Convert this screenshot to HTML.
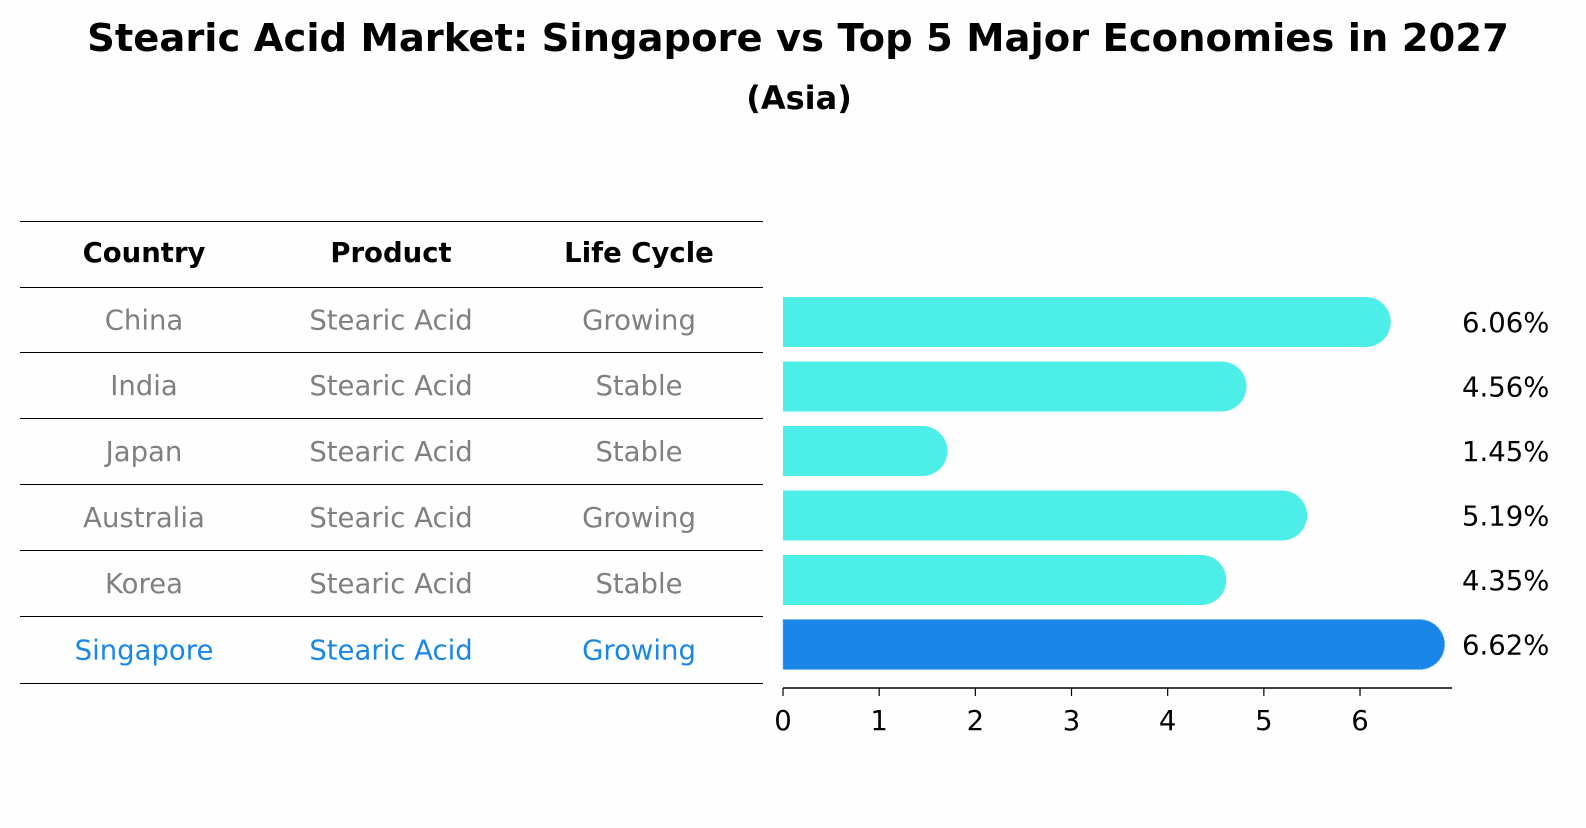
<!DOCTYPE html>
<html><head><meta charset="utf-8"><style>
body{margin:0;background:#fefefe;font-family:"Liberation Sans","DejaVu Sans",sans-serif;}
</style></head><body>
<svg width="1586" height="823" xmlns="http://www.w3.org/2000/svg" style="font-family:'DejaVu Sans','Liberation Sans',sans-serif">
<rect width="1586" height="823" fill="#fefefe"/>
<text x="798" y="51" text-anchor="middle" font-size="38.5" font-weight="bold">Stearic Acid Market: Singapore vs Top 5 Major Economies in 2027</text>
<text x="799" y="109" text-anchor="middle" font-size="32" font-weight="bold">(Asia)</text>
<g id="table"></g>
<g id="bars"></g>
</svg>
<script>
const countries=["China","India","Japan","Australia","Korea","Singapore"];
const products=["Stearic Acid","Stearic Acid","Stearic Acid","Stearic Acid","Stearic Acid","Stearic Acid"];
const lifeCycles=["Growing","Stable","Stable","Growing","Stable","Growing"];
const values=[6.06,4.56,1.45,5.19,4.35,6.62];
const ticks=[0,1,2,3,4,5,6];
const NS="http://www.w3.org/2000/svg";
const x0=783, xs=96.17;
const X=v=>x0+v*xs;
const rowY=i=>322+i*64.5;
function mk(tag,attrs,parent,text){const e=document.createElementNS(NS,tag);for(const k in attrs)e.setAttribute(k,attrs[k]);if(text!==undefined)e.textContent=text;parent.appendChild(e);return e;}
const tbl=document.getElementById('table');
const lines=[221,287,352,418,484,550,616,683];
lines.forEach(y=>{const l=mk('line',{x1:20,x2:763,y1:y+0.5,y2:y+0.5,stroke:'#000','stroke-width':1},tbl);

});
const colX=[144,391,639];
["Country","Product","Life Cycle"].forEach((h,j)=>{const t=mk('text',{x:colX[j],y:262,'text-anchor':'middle','font-size':27.5,'font-weight':'bold'},tbl,h);

});
countries.forEach((c,i)=>{const col=c==="Singapore"?"#1a86e8":"#808080";const y=(lines[i+1]+lines[i+2])/2+10;
[c,products[i],lifeCycles[i]].forEach((v,j)=>{const t=mk('text',{x:colX[j],y:y,'text-anchor':'middle','font-size':27.5,fill:col},tbl,v);

});});
const bg=document.getElementById('bars');
const h=50,r=25;
values.forEach((v,i)=>{const cy=rowY(i);const xe=X(v);const sg=countries[i]==="Singapore";const col=sg?"#1a86e8":"#4deee8";
const p=mk('path',{d:`M${x0},${cy-h/2} L${xe},${cy-h/2} A${r},${r} 0 0 1 ${xe},${cy+h/2} L${x0},${cy+h/2} Z`,fill:col},bg);
if(sg){p.setAttribute('stroke','#6ab2f2');p.setAttribute('stroke-dasharray','2,2');p.setAttribute('stroke-width','1');}


const t=mk('text',{x:1462,y:cy+10,'font-size':27.5},bg,v.toFixed(2)+'%');

});
const ax=mk('line',{x1:x0,x2:1452,y1:688,y2:688,stroke:'#000','stroke-width':1.5},bg);


ticks.forEach(t=>{const tl=mk('line',{x1:X(t),x2:X(t),y1:688,y2:696,stroke:'#000','stroke-width':1.2},bg);


const tx=mk('text',{x:X(t),y:730,'text-anchor':'middle','font-size':27.5},bg,String(t));

});
</script>
</body></html>
